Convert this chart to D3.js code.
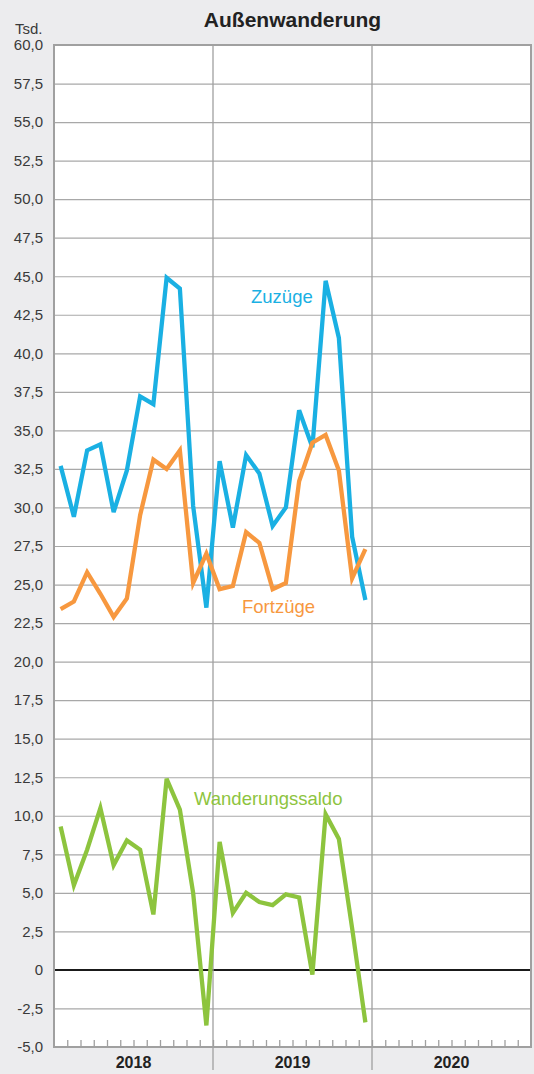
<!DOCTYPE html>
<html>
<head>
<meta charset="utf-8">
<script src="https://cdn.jsdelivr.net/npm/d3@7"></script>
<style>
  html, body { margin: 0; padding: 0; background: #ececee; }
  svg { display: block; font-family: "Liberation Sans", Arial, sans-serif; }
</style>
</head>
<body>
<div id="chart"></div>
<script>
// Außenwanderung — monthly values 2018–2019, in thousand
const years = ["2018", "2019", "2020"];
const zuzuege = [32.7, 29.4, 33.7, 34.1, 29.7, 32.4, 37.2, 36.7, 44.9, 44.2, 30.1, 23.5,
                 33.0, 28.7, 33.4, 32.2, 28.8, 30.0, 36.3, 33.9, 44.7, 41.0, 28.1, 24.0];
const fortzuege = [23.4, 23.9, 25.8, 24.4, 22.9, 24.1, 29.5, 33.1, 32.5, 33.7, 25.1, 27.0,
                   24.7, 24.9, 28.4, 27.7, 24.7, 25.1, 31.7, 34.2, 34.7, 32.4, 25.4, 27.3];
const saldo = [9.3, 5.5, 7.8, 10.5, 6.8, 8.4, 7.8, 3.6, 12.4, 10.4, 5.0, -3.6,
               8.3, 3.7, 5.0, 4.4, 4.2, 4.9, 4.7, -0.3, 10.1, 8.5, 2.7, -3.4];
const yTicks = d3.range(-5, 60.01, 2.5);

(() => {
  const width = 534, height = 1074;
  const margin = { top: 45, right: 3, bottom: 27, left: 54 };
  const innerW = width - margin.left - margin.right;
  const innerH = height - margin.top - margin.bottom;

  const svg = d3.select("#chart").append("svg")
    .attr("width", width).attr("height", height);

  const g = svg.append("g")
    .attr("transform", `translate(${margin.left},${margin.top})`);

  const x = d3.scaleLinear().domain([0, 36]).range([0, innerW]);
  const y = d3.scaleLinear().domain([-5, 60]).range([innerH, 0]);
  const xYear = d3.scaleBand().domain(years).range([0, innerW]);

  // plot background
  g.append("rect")
    .attr("width", innerW).attr("height", innerH)
    .attr("fill", "#fff");

  // horizontal grid + labels
  const fmt = v => v === 0 ? "0" : d3.format(".1f")(v).replace(".", ",").replace("−", "-");
  const ax = g.append("g")
    .call(d3.axisLeft(y).tickValues(yTicks).tickSize(-innerW).tickPadding(11).tickFormat(fmt));
  ax.select(".domain").remove();
  ax.selectAll(".tick line").attr("stroke", "#a8a8a8").attr("stroke-width", 1.2);
  ax.selectAll(".tick text")
    .attr("fill", "#3a3a3a").attr("font-size", 15)
    .attr("font-family", "Liberation Sans, Arial, sans-serif");

  // zero line
  g.append("line")
    .attr("x1", 0).attr("x2", innerW)
    .attr("y1", y(0)).attr("y2", y(0))
    .attr("stroke", "#1a1a1a").attr("stroke-width", 2);

  // month ticks
  const bx = g.append("g")
    .attr("transform", `translate(0,${innerH})`)
    .call(d3.axisBottom(x).tickValues(d3.range(1, 36)).tickSize(-7).tickFormat(""));
  bx.select(".domain").remove();
  bx.selectAll(".tick line").attr("stroke", "#a0a0a0").attr("stroke-width", 1.3);

  // year dividers
  g.selectAll("line.year")
    .data([12, 24])
    .join("line")
    .attr("class", "year")
    .attr("x1", d => x(d)).attr("x2", d => x(d))
    .attr("y1", 0).attr("y2", innerH + 23)
    .attr("stroke", "#a0a0a0").attr("stroke-width", 1.3);

  // frame
  g.append("path")
    .attr("d", `M0,${innerH}V0H${innerW}V${innerH}Z`)
    .attr("fill", "none").attr("stroke", "#a0a0a0").attr("stroke-width", 2);

  // year labels
  const yx = g.append("g")
    .attr("transform", `translate(0,${innerH})`)
    .call(d3.axisBottom(xYear).tickSize(0).tickPadding(10));
  yx.select(".domain").remove();
  yx.selectAll(".tick text")
    .attr("fill", "#222").attr("font-size", 16).attr("font-weight", "bold")
    .attr("font-family", "Liberation Sans, Arial, sans-serif");

  // lines
  const line = d3.line().x((d, i) => x(i + 0.5)).y(d => y(d));
  const series = [
    { name: "Zuzüge", values: zuzuege, color: "#1ab0e3", lx: 251, ly: 302.5 },
    { name: "Fortzüge", values: fortzuege, color: "#f7983f", lx: 242, ly: 613 },
    { name: "Wanderungssaldo", values: saldo, color: "#8dc43e", lx: 194, ly: 805 }
  ];
  g.selectAll("path.series")
    .data(series)
    .join("path")
    .attr("class", "series")
    .attr("d", d => line(d.values))
    .attr("fill", "none")
    .attr("stroke", d => d.color)
    .attr("stroke-width", 4.3)
    .attr("stroke-linejoin", "miter")
    .attr("stroke-linecap", "butt");

  svg.selectAll("text.lbl")
    .data(series)
    .join("text")
    .attr("class", "lbl")
    .attr("x", d => d.lx).attr("y", d => d.ly)
    .attr("fill", d => d.color)
    .attr("font-size", 18.5)
    .text(d => d.name);

  // title + unit
  svg.append("text")
    .attr("x", margin.left + innerW / 2).attr("y", 26.5)
    .attr("text-anchor", "middle")
    .attr("font-size", 21).attr("font-weight", "bold").attr("fill", "#222")
    .text("Außenwanderung");

  svg.append("text")
    .attr("x", 42.5).attr("y", 34)
    .attr("text-anchor", "end")
    .attr("font-size", 15).attr("fill", "#3a3a3a")
    .text("Tsd.");
})();
</script>
</body>
</html>
